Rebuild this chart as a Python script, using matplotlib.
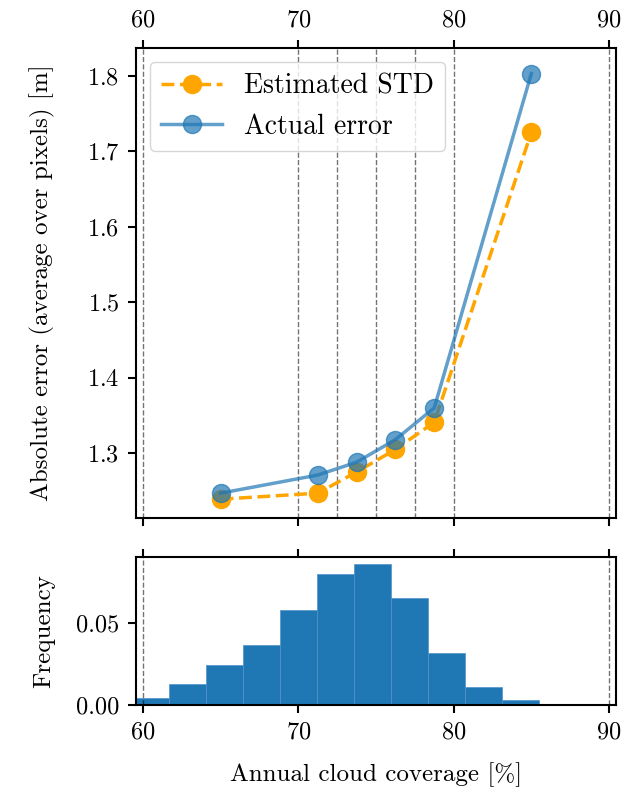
import numpy as np
import matplotlib
matplotlib.use('Agg')
from matplotlib import pyplot as plt

plt.rcParams['font.family'] = 'serif'
plt.rcParams['font.serif'] = ['cmr10', 'DejaVu Serif']
plt.rcParams['mathtext.fontset'] = 'cm'
plt.rcParams['axes.formatter.use_mathtext'] = True
plt.rcParams['axes.unicode_minus'] = False

# bin centres (annual cloud coverage %)
coverage = [65.0, 71.25, 73.75, 76.25, 78.75, 85.0]
estimated_std = [1.239, 1.247, 1.275, 1.305, 1.341, 1.725]
actual_error = [1.247, 1.271, 1.288, 1.318, 1.360, 1.803]

bin_lines = [60, 70, 72.5, 75, 77.5, 80, 90]
range_lines = [60, 90]

# histogram of coverage (density)
hist_edges = np.linspace(59.3, 85.5, 12)
hist_freq = [0.0044, 0.0129, 0.0240, 0.0364, 0.0574, 0.0796,
             0.0855, 0.0647, 0.0313, 0.0111, 0.0030]

xticks = [60, 70, 80, 90]

fig, (ax1, ax2) = plt.subplots(2, 1, figsize=(6.34, 7.97), dpi=100,
                               gridspec_kw={'height_ratios': [470, 148]})
fig.subplots_adjust(left=0.2145, right=0.9716, top=0.9398, bottom=0.1154, hspace=0.126)

for xv in bin_lines:
    ax1.axvline(xv, color='k', linestyle='--', linewidth=1, alpha=0.55)

ax1.plot(coverage, estimated_std, '--o', color='orange', linewidth=2.5,
         markersize=13, label='Estimated STD')
ax1.plot(coverage, actual_error, '-o', color='tab:blue', linewidth=2.5,
         markersize=13, alpha=0.7, label='Actual error')

ax1.set_xlim(59.55, 90.45)
ax1.set_ylim(1.214, 1.837)
ax1.set_xticks(xticks)
ax1.set_yticks([1.3, 1.4, 1.5, 1.6, 1.7, 1.8])
ax1.xaxis.tick_top()
ax1.tick_params(axis='x', which='both', top=True, bottom=True, labeltop=True, labelbottom=False)
ax1.set_ylabel('Absolute error (average over pixels) [m]', fontsize=18, labelpad=15)
ax1.legend(loc='upper left', fontsize=20, handlelength=2.2, borderaxespad=0.5)

for xv in range_lines:
    ax2.axvline(xv, color='k', linestyle='--', linewidth=1, alpha=0.55)
ax2.bar(hist_edges[:-1], hist_freq, width=np.diff(hist_edges), align='edge',
        color='tab:blue', edgecolor='#4f92cc', linewidth=0.5)
ax2.set_xlim(59.55, 90.45)
ax2.set_ylim(0, 0.0897)
ax2.set_xticks(xticks)
ax2.set_yticks([0.0, 0.05])
ax2.set_yticklabels(['0.00', '0.05'])
ax2.tick_params(axis='x', top=True, bottom=True)
ax2.set_ylabel('Frequency', fontsize=18, labelpad=15)
ax2.set_xlabel('Annual cloud coverage [%]', fontsize=18, labelpad=13)

for ax in (ax1, ax2):
    ax.tick_params(direction='out', length=6, width=1.5, labelsize=17.5, pad=6)
    for s in ax.spines.values():
        s.set_linewidth(1.5)

fig.align_ylabels([ax1, ax2])
fig.savefig('out.png', dpi=100)
